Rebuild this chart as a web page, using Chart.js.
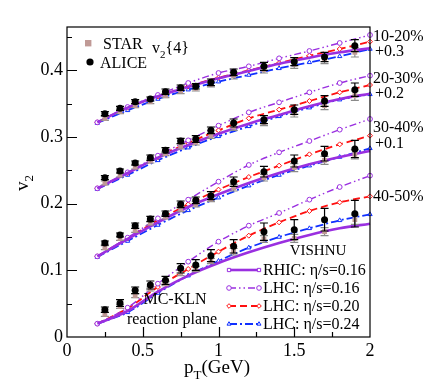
<!DOCTYPE html>
<html>
<head>
<meta charset="utf-8">
<script src="https://cdn.jsdelivr.net/npm/chart.js@4.4.1/dist/chart.umd.min.js"></script>
<style>
  html, body { margin: 0; padding: 0; background: #fff; }
  canvas { display: block; }
</style>
</head>
<body>
<canvas id="chartV2" width="441" height="391"></canvas>
<script>
// pT grids
const PT_MODEL = [0.2, 0.4, 0.6, 0.8, 1.0, 1.2, 1.4, 1.6, 1.8, 2.0];
const PT_DATA = [0.25, 0.35, 0.45, 0.55, 0.65, 0.75, 0.85, 0.95, 1.1, 1.3, 1.5, 1.7, 1.9];
const X_TICKS = [0, 0.5, 1, 1.5, 2];
const Y_TICKS = [0, 0.1, 0.2, 0.3, 0.4];

// VISHNU curves as plotted (bands already shifted by +0.3 / +0.2 / +0.1 / 0)
const RHIC_1020 = [0.322, 0.344, 0.361, 0.375, 0.388, 0.399, 0.410, 0.419, 0.427, 0.433];
const LHC16_1020 = [0.322, 0.345, 0.363, 0.381, 0.396, 0.406, 0.418, 0.429, 0.441, 0.453];
const LHC20_1020 = [0.322, 0.344, 0.361, 0.376, 0.389, 0.400, 0.411, 0.422, 0.432, 0.443];
const LHC24_1020 = [0.321, 0.340, 0.357, 0.371, 0.383, 0.393, 0.403, 0.412, 0.421, 0.432];

const RHIC_2030 = [0.223, 0.246, 0.269, 0.288, 0.305, 0.320, 0.333, 0.346, 0.357, 0.365];
const LHC16_2030 = [0.223, 0.247, 0.272, 0.295, 0.317, 0.337, 0.352, 0.367, 0.381, 0.392];
const LHC20_2030 = [0.223, 0.246, 0.270, 0.291, 0.310, 0.328, 0.341, 0.354, 0.367, 0.378];
const LHC24_2030 = [0.222, 0.243, 0.265, 0.284, 0.301, 0.316, 0.331, 0.344, 0.356, 0.364];

const RHIC_3040 = [0.121, 0.147, 0.172, 0.195, 0.214, 0.231, 0.246, 0.259, 0.270, 0.279];
const LHC16_3040 = [0.121, 0.149, 0.178, 0.206, 0.233, 0.258, 0.277, 0.294, 0.311, 0.327];
const LHC20_3040 = [0.121, 0.148, 0.175, 0.199, 0.221, 0.240, 0.257, 0.274, 0.289, 0.302];
const LHC24_3040 = [0.120, 0.144, 0.168, 0.190, 0.209, 0.227, 0.243, 0.257, 0.270, 0.283];

const RHIC_4050 = [0.020, 0.039, 0.068, 0.092, 0.111, 0.127, 0.141, 0.153, 0.163, 0.170];
const LHC16_4050 = [0.020, 0.044, 0.080, 0.113, 0.143, 0.167, 0.186, 0.206, 0.225, 0.242];
const LHC20_4050 = [0.020, 0.043, 0.075, 0.102, 0.128, 0.152, 0.172, 0.189, 0.202, 0.211];
const LHC24_4050 = [0.020, 0.037, 0.066, 0.092, 0.114, 0.134, 0.150, 0.163, 0.175, 0.184];

// ALICE v2{4}
const ALICE_1020 = [0.335, 0.343, 0.353, 0.357, 0.368, 0.374, 0.376, 0.382, 0.397, 0.406, 0.413, 0.420, 0.437];
const ALICE_2030 = [0.239, 0.249, 0.261, 0.269, 0.280, 0.294, 0.297, 0.310, 0.321, 0.326, 0.341, 0.354, 0.371];
const ALICE_3040 = [0.141, 0.153, 0.167, 0.177, 0.185, 0.199, 0.205, 0.212, 0.233, 0.248, 0.264, 0.275, 0.282];
const ALICE_4050 = [0.041, 0.051, 0.070, 0.078, 0.085, 0.103, 0.108, 0.122, 0.136, 0.158, 0.161, 0.176, 0.185];
const ALICE_ERR_1020 = [0.003, 0.003, 0.003, 0.003, 0.004, 0.004, 0.004, 0.005, 0.005, 0.006, 0.006, 0.007, 0.009];
const ALICE_ERR_2030 = [0.003, 0.003, 0.003, 0.004, 0.004, 0.004, 0.005, 0.005, 0.006, 0.006, 0.007, 0.008, 0.010];
const ALICE_ERR_3040 = [0.003, 0.003, 0.004, 0.004, 0.004, 0.005, 0.005, 0.006, 0.007, 0.008, 0.009, 0.011, 0.013];
const ALICE_ERR_4050 = [0.004, 0.005, 0.005, 0.006, 0.006, 0.007, 0.008, 0.009, 0.010, 0.013, 0.015, 0.017, 0.020];

// STAR v2{4}
const STAR_1020 = [0.328, 0.338, 0.347, 0.353, 0.362, 0.369, 0.373, 0.379, 0.392, 0.401, 0.409, 0.416, 0.427];
const STAR_2030 = [0.231, 0.243, 0.255, 0.264, 0.275, 0.286, 0.292, 0.302, 0.315, 0.322, 0.336, 0.347, 0.362];
const STAR_3040 = [0.134, 0.148, 0.160, 0.171, 0.180, 0.192, 0.199, 0.207, 0.224, 0.239, 0.254, 0.265, 0.274];
const STAR_4050 = [0.034, 0.046, 0.062, 0.072, 0.080, 0.096, 0.102, 0.114, 0.128, 0.147, 0.148, 0.158, 0.176];
const STAR_ERR = [0.003, 0.003, 0.003, 0.003, 0.003, 0.004, 0.004, 0.004, 0.005, 0.005, 0.006, 0.006, 0.007];

const BAND_LABELS = ['10-20%', '20-30%', '30-40%', '40-50%'];
const BAND_SHIFTS = ['+0.3', '+0.2', '+0.1', ''];

const SERIF = '"Liberation Serif", "DejaVu Serif", serif';
const PURPLE = '#9a2fe0';

const models = [
  { label: 'RHIC: η/s=0.16', color: PURPLE, dash: [], width: 2.6, point: 'rect', radius: 0,
    bands: [RHIC_1020, RHIC_2030, RHIC_3040, RHIC_4050] },
  { label: 'LHC: η/s=0.16', color: PURPLE, dash: [7, 3, 1.5, 3, 1.5, 3], width: 1.4, point: 'circle', radius: 2.4,
    bands: [LHC16_1020, LHC16_2030, LHC16_3040, LHC16_4050] },
  { label: 'LHC: η/s=0.20', color: '#ff1010', dash: [7, 4], width: 1.8, point: 'rectRot', radius: 2.5,
    bands: [LHC20_1020, LHC20_2030, LHC20_3040, LHC20_4050] },
  { label: 'LHC: η/s=0.24', color: '#1030ff', dash: [8, 3, 2, 3], width: 1.8, point: 'triangle', radius: 2.5,
    bands: [LHC24_1020, LHC24_2030, LHC24_3040, LHC24_4050] }
];

function pairs(xs, ys) {
  return ys.map((y, i) => ({ x: xs[i], y: y }));
}

const aliceAll = [ALICE_1020, ALICE_2030, ALICE_3040, ALICE_4050];
const aliceErr = [].concat(ALICE_ERR_1020, ALICE_ERR_2030, ALICE_ERR_3040, ALICE_ERR_4050);
const starAll = [STAR_1020, STAR_2030, STAR_3040, STAR_4050];
const starErr = [].concat(STAR_ERR, STAR_ERR, STAR_ERR, STAR_ERR);

const datasets = [];
datasets.push({
  label: 'ALICE',
  data: [].concat(...aliceAll.map(b => pairs(PT_DATA, b))),
  showLine: false, pointStyle: 'circle', pointRadius: 3.5,
  pointBackgroundColor: '#000', pointBorderColor: '#000', pointBorderWidth: 0, clip: false
});
datasets.push({
  label: 'STAR',
  data: [].concat(...starAll.map(b => pairs(PT_DATA, b))),
  showLine: false, pointStyle: 'rect', pointRadius: 3.4,
  pointBackgroundColor: '#c09a96', pointBorderColor: '#c09a96', pointBorderWidth: 0, clip: false
});
models.forEach(m => {
  m.bands.forEach(b => {
    datasets.push({
      label: m.label,
      data: pairs(PT_MODEL, b),
      borderColor: m.color, borderWidth: m.width, borderDash: m.dash,
      cubicInterpolationMode: 'monotone',
      pointStyle: m.point, pointRadius: m.radius, pointBorderWidth: 1,
      pointBorderColor: m.color, pointBackgroundColor: '#fff',
      fill: false, clip: false
    });
  });
});

function drawErrors(chart, data, errs, color) {
  const ctx = chart.ctx;
  const xs = chart.scales.x, ys = chart.scales.y;
  ctx.save();
  ctx.strokeStyle = color;
  ctx.lineWidth = 1.2;
  data.forEach((p, i) => {
    const x = xs.getPixelForValue(p.x);
    const y1 = ys.getPixelForValue(p.y - errs[i]);
    const y2 = ys.getPixelForValue(p.y + errs[i]);
    ctx.beginPath();
    ctx.moveTo(x, y1); ctx.lineTo(x, y2);
    ctx.moveTo(x - 4, y1); ctx.lineTo(x + 4, y1);
    ctx.moveTo(x - 4, y2); ctx.lineTo(x + 4, y2);
    ctx.stroke();
  });
  ctx.restore();
}

function subText(ctx, parts, x, y) {
  // parts: [text, fontSize, baselineShift]
  let cx = x;
  parts.forEach(p => {
    ctx.font = p[1] + 'px ' + SERIF;
    ctx.fillText(p[0], cx, y + p[2]);
    cx += ctx.measureText(p[0]).width;
  });
}

const decor = {
  id: 'decor',
  beforeDatasetDraw(chart, args) {
    if (args.index === 0) drawErrors(chart, chart.data.datasets[0].data, aliceErr, '#000');
    if (args.index === 1) drawErrors(chart, chart.data.datasets[1].data, starErr, '#8a8a8a');
  },
  afterDraw(chart) {
    const ctx = chart.ctx;
    const a = chart.chartArea;
    const xs = chart.scales.x, ys = chart.scales.y;
    ctx.save();
    // frame
    ctx.strokeStyle = '#000';
    ctx.lineWidth = 1.2;
    ctx.strokeRect(a.left, a.top, a.right - a.left, a.bottom - a.top);
    // inward ticks
    ctx.beginPath();
    for (let v = 0.05; v < 0.46; v += 0.05) {
      const y = Math.round(ys.getPixelForValue(v)) + 0.5;
      const major = Math.abs(v * 10 - Math.round(v * 10)) < 0.01;
      ctx.moveTo(a.left, y); ctx.lineTo(a.left + (major ? 10 : 5), y);
    }
    for (let v = 0.25; v < 2; v += 0.25) {
      const x = Math.round(xs.getPixelForValue(v)) + 0.5;
      const major = Math.abs(v * 2 - Math.round(v * 2)) < 0.01;
      ctx.moveTo(x, a.bottom); ctx.lineTo(x, a.bottom - (major ? 10 : 5));
    }
    ctx.stroke();

    ctx.fillStyle = '#000';
    ctx.textBaseline = 'alphabetic';
    ctx.textAlign = 'left';

    // axis titles
    subText(ctx, [['p', 19, 0], ['T', 13, 6], ['(GeV)', 19, 0]], 184, 373);
    ctx.save();
    ctx.translate(28, 191);
    ctx.rotate(-Math.PI / 2);
    subText(ctx, [['v', 19, 0], ['2', 13, 5]], 0, 0);
    ctx.restore();

    // data legend
    ctx.fillStyle = '#c09a96';
    ctx.fillRect(85, 40, 6.4, 6.4);
    ctx.fillStyle = '#000';
    ctx.beginPath();
    ctx.arc(90, 62, 3.6, 0, Math.PI * 2);
    ctx.fill();
    ctx.font = '16px ' + SERIF;
    ctx.fillText('STAR', 103, 49);
    ctx.fillText('ALICE', 100, 68);
    subText(ctx, [['v', 16, 0], ['2', 11, 5], ['{4}', 16, 0]], 152, 53);

    // centrality labels on the right
    ctx.font = '16px ' + SERIF;
    const labY = [[41, 56], [83, 98], [132, 148], [201, 0]];
    BAND_LABELS.forEach((t, i) => {
      ctx.fillText(t, 373, labY[i][0]);
      if (BAND_SHIFTS[i]) ctx.fillText(BAND_SHIFTS[i], 375, labY[i][1]);
    });

    // model legend
    ctx.textAlign = 'center';
    ctx.font = '15px ' + SERIF;
    ctx.fillText('VISHNU', 318, 255);
    ctx.font = '16px ' + SERIF;
    ctx.fillText('MC-KLN', 175, 304);
    ctx.fillText('reaction plane', 172, 324);
    ctx.textAlign = 'left';
    const rowY = [270, 288, 306, 324];
    models.forEach((m, i) => {
      const y = rowY[i];
      ctx.strokeStyle = m.color;
      ctx.lineWidth = m.width;
      ctx.setLineDash(m.dash);
      ctx.beginPath();
      ctx.moveTo(229, y); ctx.lineTo(259, y);
      ctx.stroke();
      ctx.setLineDash([]);
      ctx.lineWidth = 1;
      ctx.fillStyle = '#fff';
      [229, 259].forEach(px => {
        Chart.helpers.drawPoint(ctx, { pointStyle: m.point, radius: 2.3, borderWidth: 1, rotation: 0 }, px, y);
      });
      ctx.fillStyle = '#000';
      ctx.fillText(m.label, 263, y + 5);
    });
    ctx.restore();
  }
};

new Chart(document.getElementById('chartV2'), {
  type: 'line',
  data: { datasets: datasets },
  options: {
    responsive: false,
    animation: false,
    events: [],
    layout: { padding: { top: 27, right: 71, left: 0, bottom: 0 } },
    plugins: { legend: { display: false }, tooltip: { enabled: false } },
    scales: {
      x: {
        type: 'linear', min: 0, max: 2,
        afterBuildTicks: s => { s.ticks = X_TICKS.map(v => ({ value: v })); },
        afterFit: s => { s.height = 54; },
        grid: { display: false, drawTicks: false },
        border: { display: false },
        ticks: { color: '#000', font: { family: SERIF, size: 18 }, padding: 3, maxRotation: 0, autoSkip: false,
                 callback: v => String(v) }
      },
      y: {
        type: 'linear', min: 0, max: 0.465,
        afterBuildTicks: s => { s.ticks = Y_TICKS.map(v => ({ value: v })); },
        afterFit: s => { s.width = 67; },
        grid: { display: false, drawTicks: false },
        border: { display: false },
        ticks: { color: '#000', font: { family: SERIF, size: 18 }, padding: 4, autoSkip: false,
                 callback: v => (v === 0 ? '0' : v.toFixed(1)) }
      }
    }
  },
  plugins: [decor]
});
</script>
</body>
</html>
